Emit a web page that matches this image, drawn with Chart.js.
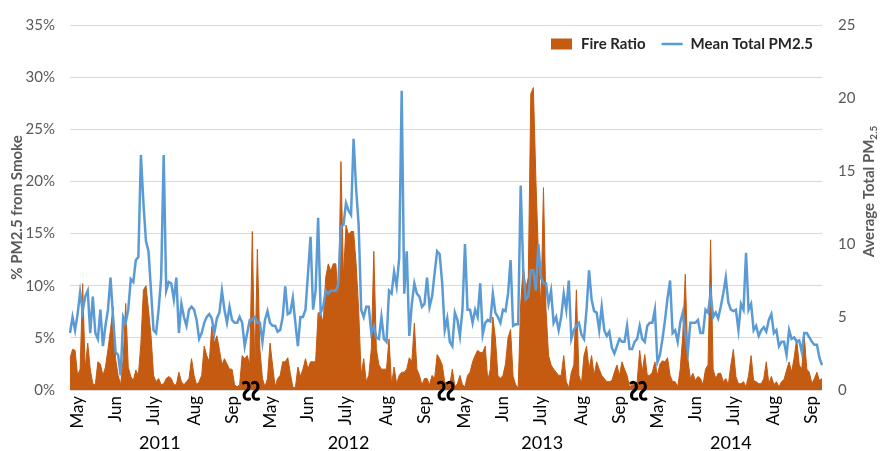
<!DOCTYPE html>
<html>
<head>
<meta charset="utf-8">
<script src="https://cdn.jsdelivr.net/npm/chart.js@4.4.1/dist/chart.umd.min.js"></script>
<style>
  body { margin: 0; background: #fff; }
  #wrap { width: 880px; height: 451px; }
</style>
</head>
<body>
<div id="wrap"><canvas id="smoke-chart"></canvas></div>
<script>
// one value every second day, May to late Sep of each year
const seasonStarts = ['2011-05-09', '2012-05-01', '2013-05-01', '2014-05-01'];
const years = ['2011', '2012', '2013', '2014'];
const monthNames = ['May', 'Jun', 'July', 'Aug', 'Sep'];

// % of PM2.5 from smoke (left axis)
const fire2011 = [3.0, 3.9, 3.8, 1.4, 2.0, 10.2, 2.0, 4.5, 2.0, 0.6,
  0.5, 2.7, 2.5, 1.4, 2.2, 3.9, 5.8, 8.0, 3.0, 1.4,
  0.5, 3.0, 8.3, 2.2, 1.3, 0.9, 1.9, 1.4, 4.5, 9.6,
  10.0, 7.7, 5.2, 1.4, 0.8, 1.1, 0.5, 0.6, 1.1, 1.3,
  1.1, 0.5, 0.5, 1.7, 0.8, 0.5, 0.8, 1.1, 3.0, 1.4,
  0.5, 0.8, 1.4, 4.2, 3.3, 2.7, 6.1, 4.5, 5.2, 3.9,
  2.4, 3.0, 2.5, 2.0, 2.0, 0.5, 0.3, 0.5, 3.3, 3.0,
  3.3, 2.4];
const fire2012 = [15.2, 2.0, 13.5, 3.9, 1.1, 0.3, 1.1, 4.5, 2.4, 0.3,
  1.1, 1.4, 2.7, 2.7, 3.1, 1.6, 0.3, 0.2, 2.2, 1.3,
  2.0, 3.0, 2.0, 2.7, 2.7, 2.7, 7.4, 7.4, 6.4, 10.8,
  12.1, 11.4, 12.1, 12.1, 8.3, 21.9, 10.8, 15.8, 14.9, 15.2,
  15.2, 12.1, 7.7, 1.4, 3.0, 0.8, 1.4, 3.9, 13.3, 3.9,
  2.4, 2.0, 2.0, 2.0, 4.9, 0.5, 2.2, 0.6, 1.4, 1.7,
  1.7, 2.0, 3.1, 2.7, 6.4, 2.0, 1.4, 0.5, 1.1, 1.1,
  0.5, 1.4, 1.1, 3.4, 3.0, 2.4, 0.8];
const fire2013 = [0.5, 0.5, 2.0, 0.3, 0.6, 1.4, 0.5, 0.3, 1.4, 1.7,
  2.7, 3.3, 3.8, 3.6, 3.6, 4.2, 0.9, 2.0, 7.0, 5.0,
  1.4, 1.1, 1.4, 2.5, 5.0, 5.8, 1.3, 0.5, 0.2, 8.3,
  11.8, 9.7, 10.8, 28.4, 29.0, 20.2, 13.0, 7.7, 19.4, 7.7,
  3.3, 2.4, 2.0, 1.7, 1.4, 1.4, 3.3, 0.8, 0.2, 1.7,
  2.4, 9.6, 1.4, 0.6, 3.3, 4.2, 2.0, 3.3, 1.4, 2.7,
  2.0, 1.4, 1.1, 0.8, 0.8, 0.9, 1.7, 2.4, 1.4, 2.7,
  2.0, 1.4, 0.3, 0.5, 0.5, 0.8];
const fire2014 = [3.8, 1.7, 3.4, 1.4, 1.4, 1.7, 2.7, 1.4, 2.5, 2.8,
  2.7, 3.1, 1.4, 0.8, 0.8, 0.3, 2.0, 5.2, 11.1, 3.0,
  1.1, 1.6, 0.9, 1.3, 1.1, 0.5, 2.0, 2.4, 14.4, 2.0,
  1.1, 1.6, 1.6, 0.8, 1.1, 0.5, 2.4, 3.9, 1.3, 0.6,
  0.6, 0.8, 0.3, 1.4, 3.3, 0.9, 0.8, 0.6, 0.6, 1.1,
  2.7, 0.6, 1.3, 0.5, 0.8, 0.3, 0.8, 1.0, 1.9, 2.7,
  1.7, 3.1, 4.9, 2.4, 2.0, 5.2, 2.0, 1.7, 0.6, 1.1,
  1.7, 0.9, 1.1];

// mean total PM2.5 (right axis)
const pm2011 = [3.9, 5.0, 4.1, 5.2, 6.7, 5.4, 6.4, 6.8, 3.9, 6.4,
  3.9, 3.5, 5.5, 3.0, 4.4, 5.5, 7.7, 5.0, 2.6, 2.4,
  1.0, 5.0, 4.6, 5.5, 7.6, 7.4, 8.9, 9.1, 16.1, 12.8,
  10.2, 9.5, 6.8, 4.1, 3.9, 5.5, 7.7, 16.1, 6.8, 7.4,
  7.3, 6.2, 7.7, 3.9, 5.9, 5.0, 4.4, 5.5, 5.7, 5.5,
  4.8, 3.5, 3.9, 4.6, 5.0, 5.2, 4.9, 3.9, 4.9, 5.3,
  6.8, 5.5, 4.6, 5.7, 4.8, 4.6, 4.6, 5.0, 4.6, 3.0,
  3.9, 4.8];
const pm2012 = [4.8, 5.0, 4.6, 4.6, 3.3, 4.8, 5.4, 4.6, 4.4, 4.4,
  4.0, 4.1, 5.0, 7.1, 5.2, 5.3, 6.3, 4.6, 3.0, 5.0,
  5.0, 5.5, 8.0, 10.5, 5.5, 6.8, 11.8, 5.3, 5.7, 6.8,
  6.6, 6.8, 6.8, 6.8, 7.3, 11.2, 11.3, 12.8, 12.3, 12.0,
  17.2, 13.8, 11.3, 5.5, 5.0, 5.7, 5.7, 3.9, 4.4, 3.6,
  3.5, 5.0, 3.5, 3.3, 6.8, 6.6, 8.1, 7.1, 9.0, 20.5,
  6.6, 9.5, 3.7, 5.9, 7.3, 6.6, 6.4, 5.7, 5.9, 7.7,
  5.7, 6.4, 8.0, 9.5, 9.3, 7.3, 4.1];
const pm2013 = [4.9, 3.3, 3.0, 5.3, 4.8, 3.7, 5.5, 10.0, 5.5, 5.5,
  4.6, 5.5, 5.0, 7.3, 3.8, 4.6, 4.8, 4.7, 6.6, 5.3,
  5.0, 4.6, 5.5, 5.4, 6.6, 8.9, 4.4, 4.5, 4.5, 14.0,
  8.2, 6.2, 6.4, 8.2, 8.2, 6.8, 10.0, 7.7, 7.3, 7.3,
  5.9, 6.8, 4.6, 5.0, 4.1, 5.0, 6.6, 5.5, 7.5, 3.5,
  4.1, 4.4, 4.6, 3.8, 3.5, 5.5, 8.2, 6.2, 5.4, 5.3,
  4.1, 5.7, 4.1, 3.7, 4.0, 2.9, 2.5, 3.0, 3.5, 3.3,
  3.3, 4.4, 2.8, 2.8, 3.3, 3.5];
const pm2014 = [4.4, 3.5, 3.3, 4.4, 4.6, 4.6, 5.5, 1.9, 2.4, 3.5,
  4.8, 6.3, 7.5, 3.9, 4.1, 3.3, 4.6, 5.3, 3.9, 2.6,
  4.6, 4.6, 4.6, 4.8, 3.9, 3.9, 5.5, 5.3, 6.6, 5.0,
  5.3, 4.9, 5.7, 6.6, 7.7, 6.0, 5.5, 5.4, 5.5, 4.1,
  5.9, 5.5, 9.4, 5.5, 5.9, 4.1, 4.4, 3.7, 4.1, 4.3,
  4.0, 4.8, 5.2, 3.9, 4.1, 3.0, 3.3, 3.3, 2.4, 4.1,
  3.5, 3.6, 3.3, 3.4, 2.6, 3.9, 3.9, 3.6, 3.3, 3.1,
  3.1, 2.2, 1.7];

const fireSeasons = [fire2011, fire2012, fire2013, fire2014];
const pmSeasons = [pm2011, pm2012, pm2013, pm2014];

// build the day labels + which index gets a month name
let labels = [], tickText = [], seasonIdx = [];
seasonStarts.forEach((s, k) => {
  let d = new Date(s + 'T00:00:00Z');
  let done = {};
  const first = labels.length;
  for (let i = 0; i < fireSeasons[k].length; i++) {
    const m = d.getUTCMonth();
    labels.push(d.toISOString().slice(0, 10));
    if (d.getUTCDate() >= 14 && !done[m]) { done[m] = true; tickText.push(monthNames[m - 4]); }
    else tickText.push('');
    d = new Date(d.getTime() + 2 * 86400000);
  }
  seasonIdx.push([first, labels.length - 1]);
});

const fireData = [].concat(...fireSeasons);
const pmData = [].concat(...pmSeasons);

const ORANGE = '#C55A11';
const BLUE = '#5B9BD5';

// years, axis breaks, right title with subscript, legend
const extras = {
  id: 'extras',
  afterDraw(chart) {
    const {ctx, chartArea, scales} = chart;
    const x = scales.x;
    ctx.save();

    ctx.font = '18px Lato';
    ctx.fillStyle = '#000';
    ctx.textAlign = 'center';
    ctx.textBaseline = 'middle';
    seasonIdx.forEach(([a, b], k) => {
      const cx = (x.getPixelForValue(a) + x.getPixelForValue(b)) / 2;
      ctx.fillText(years[k], cx, chartArea.bottom + 53);
    });

    // squiggle break marks between seasons
    ctx.strokeStyle = '#000';
    ctx.lineWidth = 3;
    ctx.lineCap = 'round';
    for (let k = 0; k < seasonIdx.length - 1; k++) {
      const bx = (x.getPixelForValue(seasonIdx[k][1]) + x.getPixelForValue(seasonIdx[k + 1][0])) / 2;
      const by = chartArea.bottom + 1;
      [-4.5, 4.5].forEach(dx => {
        const cx = bx + dx;
        ctx.beginPath();
        ctx.moveTo(cx - 3, by - 8);
        ctx.bezierCurveTo(cx + 3, by - 11, cx + 4, by - 3, cx, by);
        ctx.bezierCurveTo(cx - 4, by + 3, cx - 3, by + 10, cx + 3, by + 8);
        ctx.stroke();
      });
    }

    // right axis title, rotated, PM with subscript 2.5
    ctx.save();
    ctx.translate(869, (chartArea.top + chartArea.bottom) / 2 - 16);
    ctx.rotate(-Math.PI / 2);
    ctx.fillStyle = '#595959';
    ctx.textAlign = 'left';
    ctx.font = 'bold 15px Lato';
    const main = 'Average Total PM';
    const w1 = ctx.measureText(main).width;
    ctx.font = 'bold 10px Lato';
    const w2 = ctx.measureText('2.5').width;
    ctx.font = 'bold 15px Lato';
    ctx.fillText(main, -(w1 + w2) / 2, 0);
    ctx.font = 'bold 10px Lato';
    ctx.fillText('2.5', -(w1 + w2) / 2 + w1, 5);
    ctx.restore();

    // legend inside the plot, top right
    ctx.font = 'bold 15px Lato';
    ctx.textAlign = 'left';
    ctx.textBaseline = 'middle';
    const ly = chartArea.top + 19;
    let lx = chartArea.right - 271;
    const ds = chart.data.datasets;
    ctx.fillStyle = ORANGE;
    ctx.fillRect(lx, ly - 5.5, 21, 11);
    ctx.fillStyle = '#262626';
    ctx.fillText(ds[1].label, lx + 30, ly);
    lx = lx + 30 + ctx.measureText(ds[1].label).width + 16;
    ctx.strokeStyle = BLUE;
    ctx.lineWidth = 2.5;
    ctx.lineCap = 'butt';
    ctx.beginPath();
    ctx.moveTo(lx, ly);
    ctx.lineTo(lx + 21, ly);
    ctx.stroke();
    ctx.fillText(ds[0].label, lx + 29, ly);

    ctx.restore();
  }
};

const ctx1 = document.getElementById('smoke-chart').getContext('2d');

const config = {
  type: 'line',
  data: {
    labels: labels,
    datasets: [
      {
        label: 'Mean Total PM2.5',
        data: pmData,
        yAxisID: 'y1',
        borderColor: BLUE,
        borderWidth: 2.5,
        pointRadius: 0,
        tension: 0,
        fill: false,
        order: 0
      },
      {
        label: 'Fire Ratio',
        data: fireData,
        yAxisID: 'y',
        borderColor: ORANGE,
        backgroundColor: ORANGE,
        borderWidth: 1,
        pointRadius: 0,
        tension: 0,
        fill: 'origin',
        order: 1
      }
    ]
  },
  options: {
    responsive: true,
    maintainAspectRatio: false,
    animation: false,
    layout: { padding: { top: 18, left: 0, right: 0, bottom: 0 } },
    plugins: {
      legend: { display: false },
      tooltip: { enabled: false }
    },
    scales: {
      x: {
        type: 'category',
        grid: { display: false, drawTicks: false },
        border: { display: false },
        ticks: {
          autoSkip: false,
          minRotation: 90,
          maxRotation: 90,
          padding: 6,
          color: '#000',
          font: { family: 'Lato', size: 17 },
          callback: (val, idx) => tickText[idx]
        },
        afterFit: s => { s.height = 61; }
      },
      y: {
        position: 'left',
        min: 0,
        max: 35,
        ticks: {
          stepSize: 5,
          padding: 15,
          color: '#595959',
          font: { family: 'Lato', size: 15 },
          callback: v => v + '%'
        },
        grid: { color: '#D9D9D9', drawTicks: false },
        border: { display: false },
        title: {
          display: true,
          text: '% PM2.5 from Smoke',
          color: '#595959',
          font: { family: 'Lato', size: 15, weight: 'bold' },
          padding: { top: 8, bottom: 0 }
        },
        afterFit: s => { s.width = 70; }
      },
      y1: {
        position: 'right',
        min: 0,
        max: 25,
        ticks: {
          stepSize: 5,
          padding: 16,
          color: '#595959',
          font: { family: 'Lato', size: 15 }
        },
        grid: { display: false, drawTicks: false },
        border: { display: false },
        afterFit: s => { s.width = 58; }
      }
    }
  },
  plugins: [extras]
};

const smokeChart = new Chart(ctx1, config);
</script>
</body>
</html>
